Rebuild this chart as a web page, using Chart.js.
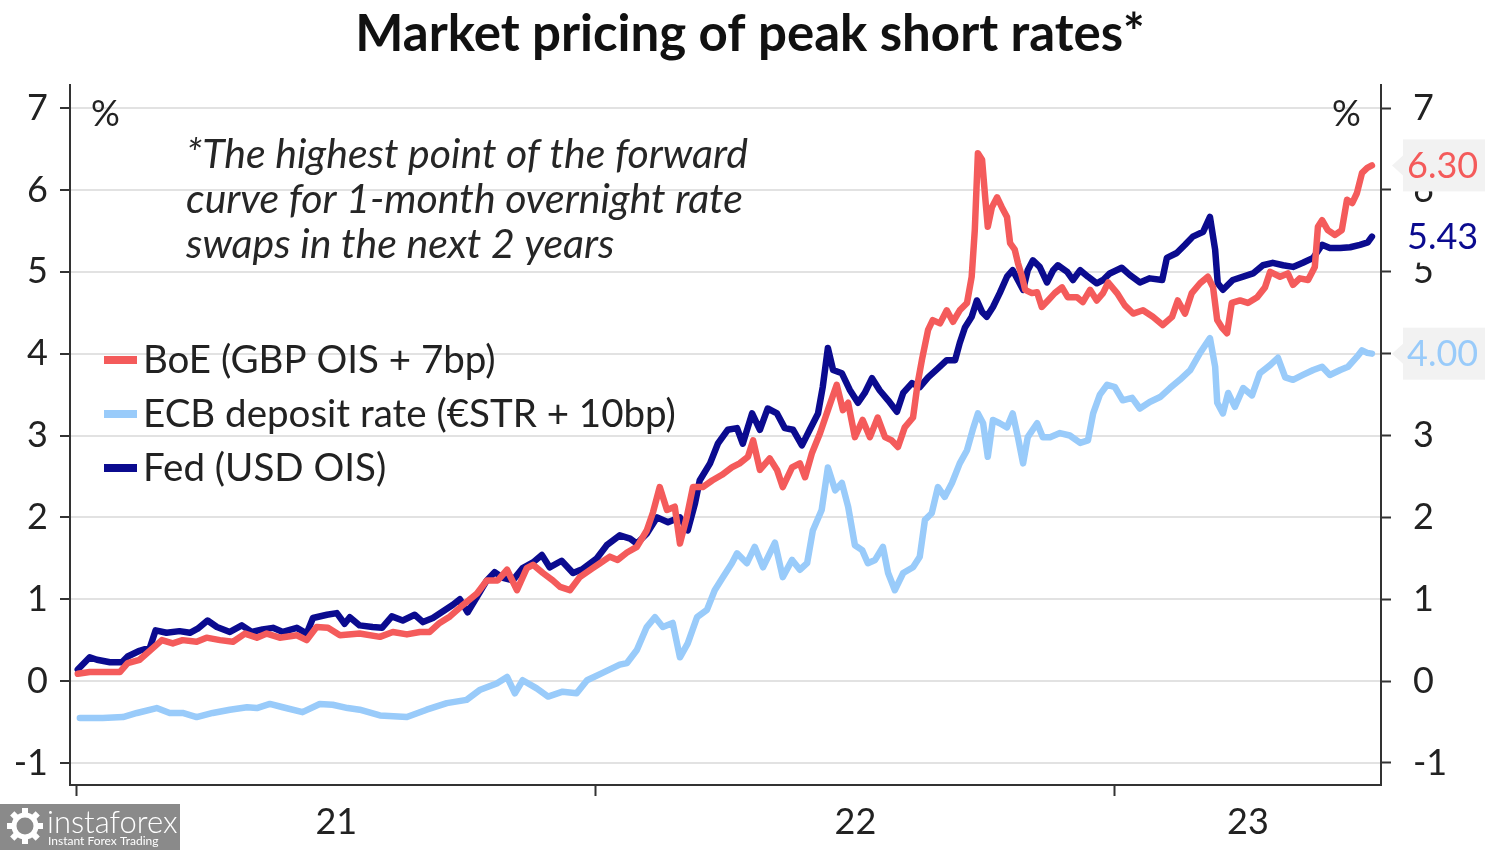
<!DOCTYPE html>
<html><head><meta charset="utf-8">
<script src="https://cdn.jsdelivr.net/npm/chart.js@4.4.1/dist/chart.umd.min.js"></script>
<style>html,body{margin:0;padding:0;background:#fff;}#wrap{width:1500px;height:850px;position:relative;}</style>
</head><body><div id="wrap"><canvas id="c" width="1500" height="850"></canvas></div>
<script>
// ---- DATA (dates as decimal years) ----
const boeDates = [2021.002,2021.025,2021.050,2021.083,2021.098,2021.121,2021.146,2021.164,2021.185,2021.204,2021.231,2021.250,2021.276,2021.301,2021.324,2021.347,2021.366,2021.391,2021.424,2021.443,2021.462,2021.484,2021.507,2021.545,2021.584,2021.609,2021.636,2021.661,2021.680,2021.699,2021.719,2021.744,2021.771,2021.790,2021.811,2021.829,2021.848,2021.867,2021.879,2021.898,2021.917,2021.931,2021.950,2021.969,2021.994,2022.008,2022.027,2022.042,2022.060,2022.079,2022.098,2022.110,2022.123,2022.137,2022.152,2022.162,2022.175,2022.187,2022.206,2022.224,2022.243,2022.262,2022.277,2022.293,2022.303,2022.316,2022.335,2022.349,2022.360,2022.378,2022.393,2022.403,2022.416,2022.432,2022.447,2022.464,2022.476,2022.486,2022.499,2022.514,2022.528,2022.543,2022.557,2022.570,2022.582,2022.595,2022.611,2022.620,2022.628,2022.640,2022.649,2022.663,2022.676,2022.688,2022.701,2022.715,2022.724,2022.730,2022.736,2022.744,2022.750,2022.755,2022.763,2022.773,2022.782,2022.792,2022.798,2022.807,2022.813,2022.821,2022.827,2022.840,2022.850,2022.859,2022.871,2022.884,2022.898,2022.909,2022.927,2022.938,2022.952,2022.965,2022.977,2022.987,2023.004,2023.019,2023.035,2023.054,2023.073,2023.092,2023.110,2023.121,2023.135,2023.148,2023.164,2023.179,2023.189,2023.197,2023.206,2023.216,2023.225,2023.241,2023.256,2023.274,2023.289,2023.299,2023.318,2023.333,2023.343,2023.356,2023.372,2023.385,2023.391,2023.399,2023.410,2023.424,2023.437,2023.447,2023.457,2023.466,2023.476,2023.486,2023.495];
const boeValues = [0.09,0.11,0.11,0.11,0.22,0.26,0.40,0.50,0.46,0.50,0.48,0.53,0.50,0.48,0.58,0.53,0.58,0.53,0.56,0.50,0.66,0.65,0.56,0.58,0.54,0.60,0.57,0.60,0.60,0.71,0.79,0.93,1.07,1.23,1.23,1.36,1.11,1.38,1.42,1.32,1.23,1.15,1.11,1.27,1.38,1.44,1.52,1.48,1.57,1.64,1.84,2.06,2.37,2.09,2.13,1.68,2.00,2.37,2.37,2.45,2.52,2.61,2.66,2.74,2.94,2.58,2.72,2.58,2.37,2.61,2.66,2.49,2.78,3.03,3.31,3.62,3.31,3.40,2.98,3.19,2.98,3.22,2.98,2.94,2.86,3.10,3.22,3.64,3.92,4.29,4.41,4.37,4.53,4.39,4.53,4.62,4.94,5.51,6.45,6.37,5.91,5.55,5.79,5.91,5.79,5.67,5.35,5.27,5.11,4.94,4.78,4.74,4.75,4.57,4.65,4.74,4.81,4.69,4.69,4.63,4.78,4.65,4.74,4.87,4.74,4.59,4.49,4.53,4.45,4.35,4.45,4.65,4.49,4.74,4.86,4.94,4.81,4.41,4.32,4.25,4.62,4.65,4.62,4.69,4.81,5.00,4.94,4.98,4.84,4.92,4.90,5.06,5.55,5.63,5.51,5.45,5.51,5.88,5.84,5.96,6.21,6.27,6.30];

const fedDates = [2021.002,2021.025,2021.039,2021.064,2021.087,2021.098,2021.121,2021.141,2021.152,2021.173,2021.198,2021.218,2021.233,2021.252,2021.270,2021.295,2021.318,2021.337,2021.358,2021.378,2021.397,2021.424,2021.443,2021.455,2021.482,2021.501,2021.516,2021.526,2021.545,2021.570,2021.588,2021.607,2021.628,2021.651,2021.667,2021.686,2021.705,2021.724,2021.738,2021.753,2021.771,2021.790,2021.805,2021.821,2021.840,2021.859,2021.879,2021.896,2021.911,2021.934,2021.956,2021.975,2022.002,2022.021,2022.046,2022.066,2022.079,2022.098,2022.118,2022.139,2022.162,2022.177,2022.191,2022.200,2022.220,2022.235,2022.254,2022.272,2022.283,2022.301,2022.316,2022.331,2022.349,2022.364,2022.380,2022.397,2022.412,2022.428,2022.437,2022.447,2022.457,2022.474,2022.489,2022.505,2022.518,2022.532,2022.547,2022.563,2022.580,2022.592,2022.609,2022.624,2022.640,2022.659,2022.676,2022.692,2022.701,2022.711,2022.724,2022.734,2022.744,2022.753,2022.765,2022.778,2022.792,2022.803,2022.813,2022.823,2022.832,2022.842,2022.855,2022.869,2022.881,2022.890,2022.908,2022.919,2022.933,2022.948,2022.965,2022.977,2022.990,2023.013,2023.029,2023.048,2023.067,2023.091,2023.100,2023.119,2023.135,2023.150,2023.170,2023.183,2023.193,2023.198,2023.208,2023.227,2023.247,2023.266,2023.285,2023.304,2023.324,2023.343,2023.362,2023.382,2023.399,2023.414,2023.434,2023.453,2023.472,2023.487,2023.495];
const fedValues = [0.14,0.29,0.26,0.23,0.23,0.30,0.37,0.41,0.62,0.59,0.61,0.59,0.64,0.74,0.66,0.60,0.68,0.60,0.63,0.65,0.60,0.65,0.58,0.77,0.81,0.83,0.70,0.78,0.68,0.66,0.65,0.79,0.74,0.81,0.72,0.77,0.85,0.93,1.00,0.84,1.03,1.23,1.33,1.26,1.23,1.38,1.45,1.54,1.39,1.47,1.32,1.37,1.50,1.66,1.78,1.74,1.68,1.80,2.00,1.94,2.00,1.84,2.17,2.45,2.66,2.90,3.07,3.09,2.90,3.27,3.07,3.33,3.27,3.09,3.07,2.88,3.07,3.27,3.59,4.07,3.80,3.76,3.56,3.40,3.52,3.70,3.55,3.43,3.29,3.52,3.64,3.59,3.71,3.82,3.92,3.92,4.13,4.32,4.45,4.65,4.51,4.45,4.57,4.74,4.94,5.02,4.90,4.78,5.02,5.14,5.06,4.87,5.02,5.08,5.00,4.90,5.02,4.94,4.86,4.90,4.98,5.05,4.96,4.87,4.92,4.90,5.17,5.23,5.33,5.43,5.49,5.67,5.27,4.86,4.78,4.90,4.94,4.98,5.08,5.11,5.08,5.06,5.11,5.17,5.33,5.29,5.29,5.30,5.33,5.36,5.43];

const ecbDates = [2021.006,2021.050,2021.089,2021.116,2021.154,2021.179,2021.204,2021.231,2021.262,2021.295,2021.328,2021.347,2021.372,2021.397,2021.435,2021.468,2021.493,2021.522,2021.545,2021.584,2021.636,2021.674,2021.713,2021.751,2021.776,2021.809,2021.829,2021.844,2021.859,2021.886,2021.908,2021.936,2021.963,2021.983,2022.013,2022.046,2022.060,2022.079,2022.098,2022.114,2022.129,2022.148,2022.162,2022.177,2022.195,2022.214,2022.229,2022.245,2022.262,2022.272,2022.291,2022.306,2022.322,2022.345,2022.360,2022.378,2022.393,2022.407,2022.418,2022.435,2022.447,2022.461,2022.474,2022.486,2022.499,2022.513,2022.524,2022.538,2022.553,2022.563,2022.576,2022.592,2022.611,2022.624,2022.634,2022.647,2022.659,2022.672,2022.686,2022.701,2022.715,2022.726,2022.736,2022.746,2022.755,2022.765,2022.778,2022.792,2022.803,2022.813,2022.823,2022.832,2022.850,2022.861,2022.875,2022.894,2022.913,2022.933,2022.948,2022.958,2022.971,2022.985,2023.000,2023.015,2023.033,2023.048,2023.067,2023.087,2023.106,2023.125,2023.145,2023.164,2023.183,2023.193,2023.197,2023.208,2023.218,2023.231,2023.247,2023.264,2023.279,2023.299,2023.314,2023.328,2023.343,2023.362,2023.382,2023.399,2023.414,2023.434,2023.449,2023.466,2023.476,2023.486,2023.495];
const ecbValues = [-0.45,-0.45,-0.44,-0.39,-0.33,-0.39,-0.39,-0.44,-0.39,-0.35,-0.32,-0.33,-0.28,-0.32,-0.38,-0.28,-0.29,-0.33,-0.35,-0.42,-0.44,-0.35,-0.27,-0.23,-0.11,-0.03,0.05,-0.15,0.01,-0.09,-0.19,-0.13,-0.15,0.01,0.10,0.20,0.22,0.38,0.66,0.78,0.66,0.71,0.29,0.46,0.78,0.87,1.11,1.27,1.44,1.56,1.44,1.64,1.39,1.69,1.27,1.48,1.36,1.44,1.84,2.09,2.61,2.33,2.42,2.13,1.66,1.60,1.44,1.48,1.64,1.32,1.11,1.32,1.39,1.52,1.97,2.05,2.37,2.25,2.42,2.66,2.82,3.07,3.27,3.15,2.74,3.19,3.15,3.10,3.27,2.98,2.66,2.98,3.15,2.98,2.98,3.03,3.00,2.91,2.94,3.27,3.50,3.62,3.59,3.43,3.46,3.33,3.41,3.47,3.58,3.68,3.80,4.01,4.19,3.84,3.40,3.27,3.52,3.35,3.58,3.49,3.76,3.86,3.95,3.71,3.68,3.74,3.80,3.84,3.74,3.80,3.84,3.96,4.04,4.01,4.00];

const seriesLabels = ['BoE (GBP OIS + 7bp)', 'ECB deposit rate (€STR + 10bp)', 'Fed (USD OIS)'];
const seriesColors = ['#f45b5b', '#99cbfa', '#0b0b8f'];
const yearTicks = [2021, 2022, 2023];
const yearLabels = ['21', '22', '23'];
const yTicks = [-1, 0, 1, 2, 3, 4, 5, 6, 7];
const xMin = 2020.987, xMax = 2023.5125, yMin = -1.27, yMax = 7.28;
const endLabels = ['6.30', '4.00', '5.43'];

const FONT = 'Lato, "Open Sans", sans-serif';
const pts = (d, v) => d.map((x, i) => ({ x, y: v[i] }));

// label positions: middle of each (visible) year
const yearMids = yearTicks.map(y => (y + Math.min(y + 1, xMax)) / 2);

const overlay = {
  id: 'overlay',
  afterDraw(chart) {
    const ctx = chart.ctx;
    const ys = chart.scales.y2;
    ctx.save();
    // % labels
    ctx.fillStyle = '#222';
    ctx.font = '36px ' + FONT;
    ctx.textBaseline = 'middle';
    ctx.textAlign = 'left';
    ctx.fillText('%', 91, 114);
    ctx.fillText('%', 1332, 114);
    // annotation
    ctx.font = 'italic 41px ' + FONT;
    ctx.fillStyle = '#262626';
    const note = ['*The highest point of the forward', 'curve for 1-month overnight rate', 'swaps in the next 2 years'];
    note.forEach((t, i) => ctx.fillText(t, 186, 155 + i * 45));
    // legend
    ctx.font = '38.5px ' + FONT;
    const legendOrder = [0, 1, 2];
    legendOrder.forEach((k, i) => {
      const y = 360 + i * 54;
      ctx.fillStyle = seriesColors[k];
      ctx.fillRect(104, y - 4, 33, 8);
      ctx.fillStyle = '#222';
      ctx.fillText(seriesLabels[k], 143, y + 1);
    });
    // end value labels
    const lastVals = [boeValues[boeValues.length - 1], ecbValues[ecbValues.length - 1], fedValues[fedValues.length - 1]];
    const boxFill = ['#f2f2f2', '#f2f2f2', '#ffffff'];
    lastVals.forEach((v, k) => {
      const y = ys.getPixelForValue(v);
      ctx.fillStyle = boxFill[k];
      ctx.fillRect(1403, y - 26, 82, 52);
      ctx.beginPath();
      ctx.moveTo(1403, y - 10);
      ctx.lineTo(1392, y);
      ctx.lineTo(1403, y + 10);
      ctx.closePath();
      ctx.fill();
      ctx.fillStyle = seriesColors[k];
      ctx.font = '36px ' + FONT;
      ctx.fillText(endLabels[k], 1407, y + 1);
    });
    // watermark
    ctx.fillStyle = '#8a8a8a';
    ctx.fillRect(0, 804, 180, 46);
    ctx.fillStyle = '#ffffff';
    ctx.strokeStyle = '#ffffff';
    ctx.beginPath();
    ctx.arc(25, 826, 11, 0, Math.PI * 2);
    ctx.lineWidth = 5;
    ctx.stroke();
    for (let a = 0; a < 8; a++) {
      const ang = a * Math.PI / 4;
      ctx.save();
      ctx.translate(25 + Math.cos(ang) * 15, 826 + Math.sin(ang) * 15);
      ctx.rotate(ang);
      ctx.fillRect(-3, -3, 6, 6);
      ctx.restore();
    }
    ctx.font = '300 31px ' + FONT;
    ctx.fillText('instaforex', 47, 823);
    ctx.font = '12px ' + FONT;
    ctx.fillText('Instant Forex Trading', 48, 841);
    ctx.restore();
  }
};

new Chart(document.getElementById('c'), {
  type: 'line',
  data: {
    datasets: [
      { label: seriesLabels[0], data: pts(boeDates, boeValues), borderColor: seriesColors[0] },
      { label: seriesLabels[2], data: pts(fedDates, fedValues), borderColor: seriesColors[2] },
      { label: seriesLabels[1], data: pts(ecbDates, ecbValues), borderColor: seriesColors[1] }
    ]
  },
  options: {
    responsive: false,
    animation: false,
    devicePixelRatio: 1,
    datasets: { line: { borderWidth: 6.5, pointRadius: 0, tension: 0, borderJoinStyle: 'round', borderCapStyle: 'round', fill: false } },
    layout: { padding: 0 },
    plugins: {
      legend: { display: false },
      tooltip: { enabled: false },
      title: {
        display: true,
        text: 'Market pricing of peak short rates*',
        font: { family: FONT, size: 51, weight: 'bold' },
        color: '#111',
        padding: { top: 4, bottom: 20 }
      }
    },
    scales: {
      x: {
        type: 'linear', min: xMin, max: xMax,
        afterBuildTicks: s => { s.ticks = yearTicks.concat(yearMids).sort((a, b) => a - b).map(v => ({ value: v })); },
        afterFit: s => { s.height = 65; },
        ticks: {
          autoSkip: false, maxRotation: 0, padding: 5,
          font: { family: FONT, size: 36 }, color: '#222',
          callback: v => { const i = yearMids.findIndex(m => Math.abs(m - v) < 1e-6); return i >= 0 ? yearLabels[i] : ''; }
        },
        grid: {
          drawOnChartArea: false, tickLength: 11, tickWidth: 2,
          tickColor: c => (c.tick && yearTicks.includes(c.tick.value)) ? '#333' : 'rgba(0,0,0,0)'
        },
        border: { color: '#333', width: 2 }
      },
      y: {
        position: 'left', min: yMin, max: yMax,
        afterBuildTicks: s => { s.ticks = yTicks.map(v => ({ value: v })); },
        afterFit: s => { s.width = 70; },
        ticks: { padding: 12, font: { family: FONT, size: 36 }, color: '#222' },
        grid: { color: '#e2e2e2', lineWidth: 2, tickLength: 10, tickColor: '#333', tickWidth: 2 },
        border: { color: '#333', width: 2 }
      },
      y2: {
        position: 'right', min: yMin, max: yMax,
        afterBuildTicks: s => { s.ticks = yTicks.map(v => ({ value: v })); },
        afterFit: s => { s.width = 119; },
        ticks: { padding: 22, font: { family: FONT, size: 36 }, color: '#222' },
        grid: { drawOnChartArea: false, tickLength: 10, tickColor: '#333', tickWidth: 2 },
        border: { color: '#333', width: 2 }
      }
    }
  },
  plugins: [overlay]
});
</script>
</body></html>
